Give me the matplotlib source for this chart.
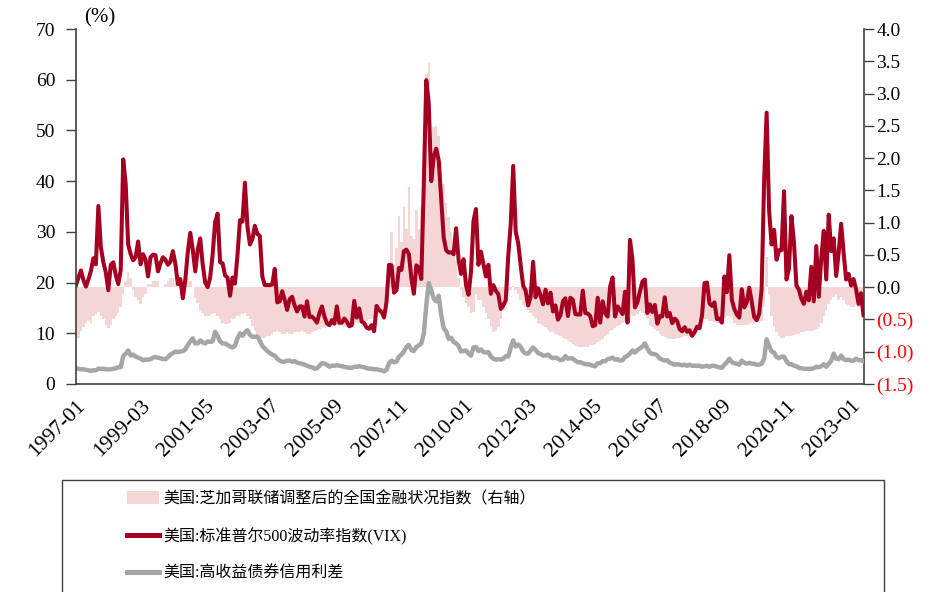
import numpy as np
import pandas as pd
import matplotlib
matplotlib.use('Agg')
import matplotlib.pyplot as plt
from matplotlib.patches import Patch, Rectangle
from matplotlib.lines import Line2D

plt.rcParams['font.family'] = ['Liberation Serif', 'Noto Sans CJK SC']
plt.rcParams['axes.unicode_minus'] = False

# monthly, 1997-01 .. 2023-06
months = pd.period_range('1997-01', '2023-06', freq='M').strftime('%Y-%m').tolist()

# VIX, month-end close
vix = [
    19.5, 21.0, 22.4, 20.5, 19.2, 20.6, 22.3, 24.8, 23.6, 35.1, 27.0, 24.0,
    22.0, 18.5, 23.5, 24.0, 21.5, 19.7, 22.5, 44.3, 39.5, 27.5, 25.6, 24.4,
    25.0, 28.1, 23.6, 25.6, 24.5, 21.2, 25.0, 25.5, 25.4, 22.2, 23.8, 25.0,
    24.5, 23.5, 24.1, 26.2, 23.7, 19.7, 20.7, 16.9, 20.6, 26.0, 29.8, 26.5,
    22.2, 26.5, 28.7, 23.6, 20.0, 19.1, 21.0, 25.5, 31.9, 33.6, 24.0, 23.8,
    21.4, 21.0, 17.4, 21.0, 19.8, 25.4, 32.3, 32.0, 39.7, 31.1, 27.5, 28.6,
    31.2, 29.6, 29.2, 21.2, 19.5, 19.5, 19.5, 19.6, 22.7, 16.1, 16.3, 18.3,
    16.6, 14.6, 16.7, 17.2, 15.5, 14.3, 15.3, 15.3, 13.3, 16.3, 13.2, 13.3,
    12.8, 12.1, 14.0, 15.3, 13.3, 12.0, 11.6, 12.6, 11.9, 15.3, 12.1, 12.1,
    12.9, 12.3, 11.4, 11.6, 16.4, 13.1, 14.9, 12.3, 12.0, 11.1, 10.9, 11.6,
    10.4, 15.4, 14.6, 14.2, 13.1, 16.2, 23.5, 23.4, 18.0, 18.5, 22.9, 22.5,
    26.2, 26.5, 25.6, 20.8, 17.8, 23.4, 22.9, 20.7, 39.4, 59.9, 55.3, 40.0,
    44.8, 46.4, 44.1, 36.5, 28.9, 26.4, 25.9, 26.0, 25.6, 30.7, 24.5, 21.7,
    24.6, 19.5, 17.6, 22.1, 32.1, 34.5, 23.5, 26.1, 23.7, 21.2, 23.5, 17.8,
    19.5, 18.4, 17.7, 14.8, 15.5, 16.5, 25.3, 31.6, 43.0, 30.0, 27.8, 23.4,
    19.4, 18.4, 15.5, 17.2, 24.1, 17.1, 18.9, 17.5, 15.7, 18.6, 15.9, 18.0,
    14.3, 15.5, 12.7, 13.5, 16.3, 16.9, 13.4, 17.0, 16.6, 13.8, 13.7, 13.7,
    18.4, 14.0, 13.9, 13.4, 11.4, 11.6, 17.0, 12.1, 16.3, 14.0, 13.3, 19.2,
    21.0, 13.3, 15.3, 14.6, 13.8, 18.2, 12.1, 28.4, 24.5, 15.1, 16.1, 18.2,
    20.2, 20.6, 14.0, 15.7, 14.2, 15.6, 11.9, 13.4, 13.3, 17.1, 13.3, 14.0,
    12.0, 12.9, 12.4, 10.8, 10.4, 11.2, 10.3, 10.6, 9.5, 10.2, 11.3, 11.0,
    13.5, 19.9, 20.0, 15.9, 15.4, 16.1, 12.8, 12.9, 12.1, 21.2, 18.1, 25.4,
    16.6, 14.8, 13.7, 13.1, 18.7, 15.1, 16.1, 19.0, 16.2, 13.2, 12.6, 13.8,
    18.8, 40.1, 53.5, 34.2, 27.5, 30.4, 24.5, 26.4, 26.4, 38.0, 20.6, 22.8,
    33.1, 28.0, 19.4, 18.6, 16.8, 15.8, 18.2, 16.5, 23.1, 16.3, 27.2, 17.2,
    24.8, 30.2, 20.6, 33.4, 26.2, 28.7, 21.3, 25.9, 31.6, 25.9, 20.6, 21.7,
    19.4, 20.7, 18.7, 15.8, 17.9, 13.6,
]

# high-yield credit spread (%)
hy_spread = [
    3.1, 3.0, 2.9, 2.9, 2.8, 2.7, 2.6, 2.7, 2.7, 3.0, 3.0, 3.0,
    2.9, 2.9, 2.9, 3.0, 3.1, 3.3, 3.3, 5.5, 6.0, 6.6, 5.6, 5.8,
    5.4, 5.2, 5.0, 4.7, 4.8, 4.8, 4.9, 5.2, 5.3, 5.2, 5.1, 4.9,
    4.9, 5.3, 5.8, 6.1, 6.4, 6.3, 6.4, 6.5, 6.8, 7.7, 8.4, 9.0,
    8.0, 8.0, 8.6, 8.2, 8.0, 8.4, 8.3, 8.4, 10.3, 9.5, 8.4, 8.0,
    8.0, 7.7, 7.4, 7.2, 7.6, 9.0, 10.0, 9.5, 10.2, 10.6, 9.7, 9.3,
    9.3, 9.4, 8.5, 7.5, 7.0, 6.5, 6.1, 5.8, 5.6, 5.0, 4.6, 4.4,
    4.4, 4.6, 4.6, 4.4, 4.5, 4.2, 4.1, 4.0, 3.8, 3.6, 3.4, 3.3,
    3.0, 3.1, 3.6, 4.1, 4.0, 3.8, 3.4, 3.6, 3.6, 3.7, 3.6, 3.5,
    3.4, 3.3, 3.2, 3.2, 3.4, 3.4, 3.5, 3.4, 3.3, 3.1, 3.0, 3.0,
    2.9, 2.9, 2.8, 2.7, 2.5, 2.8, 4.1, 4.6, 4.3, 4.4, 5.4, 5.8,
    6.4, 7.3, 7.7, 6.7, 6.5, 7.3, 7.6, 8.0, 9.9, 15.5, 19.9, 18.5,
    16.8, 16.3, 17.4, 13.7, 11.0, 10.4, 8.9, 9.1, 8.3, 8.0, 7.5, 6.4,
    6.5, 6.6, 6.0, 5.6, 7.2, 7.3, 6.5, 6.8, 6.3, 6.2, 6.3, 5.4,
    5.0, 4.8, 4.9, 4.8, 5.0, 5.5, 5.4, 7.2, 8.6, 7.4, 7.8, 7.3,
    6.4, 6.0, 6.0, 6.6, 7.2, 6.7, 6.1, 5.9, 5.6, 5.6, 5.8, 5.3,
    5.1, 5.2, 5.0, 4.7, 4.8, 5.5, 5.0, 5.1, 5.0, 4.6, 4.3, 4.3,
    4.1, 3.9, 3.9, 3.8, 3.6, 3.5, 4.1, 4.1, 4.5, 4.5, 4.9, 5.0,
    5.2, 4.8, 4.9, 4.6, 4.7, 5.3, 5.6, 6.0, 6.6, 6.2, 6.7, 7.0,
    7.4, 8.0, 7.0, 6.2, 5.9, 5.9, 5.6, 5.0, 4.8, 4.6, 4.7, 4.2,
    4.0, 3.8, 3.9, 3.8, 3.7, 3.8, 3.6, 3.8, 3.6, 3.6, 3.6, 3.6,
    3.4, 3.5, 3.6, 3.4, 3.6, 3.6, 3.4, 3.3, 3.2, 3.8, 4.3, 5.0,
    4.3, 4.1, 4.0, 3.8, 4.6, 4.2, 4.0, 4.2, 4.0, 4.0, 3.8, 3.8,
    4.0, 5.0, 8.8, 7.5, 6.4, 6.2, 5.3, 5.1, 5.4, 5.4, 4.5, 3.9,
    3.9, 3.6, 3.5, 3.2, 3.1, 3.0, 3.0, 3.0, 3.0, 3.1, 3.4, 3.3,
    3.5, 3.9, 3.4, 4.0, 4.6, 6.0, 5.0, 4.9, 5.6, 4.9, 4.7, 4.8,
    4.6, 4.6, 5.0, 4.7, 4.7, 4.5,
]

# Chicago Fed adjusted national financial conditions index (right axis)
anfci = [
    -0.78, -0.78, -0.68, -0.62, -0.56, -0.52, -0.55, -0.45, -0.42, -0.38, -0.45, -0.50,
    -0.58, -0.63, -0.58, -0.50, -0.45, -0.40, -0.30, -0.10, 0.10, 0.23, 0.15, -0.05,
    -0.15, -0.20, -0.26, -0.15, -0.10, 0.05, 0.05, 0.10, 0.10, 0.10, 0.00, 0.00,
    0.05, 0.10, 0.15, 0.15, 0.05, 0.00, 0.05, 0.10, 0.10, 0.15, 0.10, 0.00,
    -0.16, -0.25, -0.37, -0.40, -0.44, -0.45, -0.45, -0.42, -0.40, -0.45, -0.50, -0.55,
    -0.57, -0.57, -0.55, -0.50, -0.48, -0.45, -0.44, -0.42, -0.40, -0.45, -0.50, -0.60,
    -0.68, -0.72, -0.78, -0.78, -0.78, -0.76, -0.75, -0.72, -0.70, -0.68, -0.70, -0.72,
    -0.72, -0.70, -0.72, -0.72, -0.70, -0.70, -0.70, -0.68, -0.70, -0.72, -0.72, -0.70,
    -0.68, -0.66, -0.65, -0.62, -0.63, -0.62, -0.60, -0.60, -0.58, -0.58, -0.60, -0.60,
    -0.62, -0.62, -0.64, -0.64, -0.58, -0.56, -0.55, -0.55, -0.52, -0.52, -0.50, -0.50,
    -0.47, -0.45, -0.42, -0.38, -0.30, -0.10, 0.30, 0.85, 0.35, 0.60, 1.10, 0.70,
    1.24, 0.90, 1.55, 0.80, 0.75, 1.19, 0.90, 1.24, 1.60, 3.30, 3.47, 2.30,
    2.48, 2.50, 2.35, 1.95, 1.60, 1.30, 1.08, 0.85, 0.60, 0.40, 0.15, -0.05,
    -0.15, -0.25, -0.30, -0.40, -0.39, -0.10, -0.20, -0.20, -0.30, -0.40, -0.50, -0.60,
    -0.70, -0.68, -0.62, -0.50, -0.35, -0.25, -0.11, -0.05, 0.02, -0.05, -0.11, -0.20,
    -0.28, -0.31, -0.35, -0.40, -0.45, -0.47, -0.55, -0.57, -0.60, -0.62, -0.66, -0.70,
    -0.70, -0.72, -0.74, -0.76, -0.78, -0.80, -0.83, -0.85, -0.88, -0.91, -0.92, -0.93,
    -0.93, -0.92, -0.92, -0.90, -0.90, -0.88, -0.85, -0.83, -0.80, -0.75, -0.72, -0.68,
    -0.66, -0.63, -0.60, -0.58, -0.55, -0.52, -0.50, -0.47, -0.44, -0.45, -0.42, -0.37,
    -0.40, -0.45, -0.50, -0.58, -0.62, -0.65, -0.68, -0.72, -0.75, -0.77, -0.78, -0.80,
    -0.80, -0.80, -0.78, -0.78, -0.77, -0.76, -0.75, -0.75, -0.73, -0.72, -0.70, -0.60,
    -0.47, -0.50, -0.50, -0.52, -0.52, -0.54, -0.55, -0.55, -0.50, -0.48, -0.45, -0.44,
    -0.48, -0.55, -0.58, -0.58, -0.58, -0.58, -0.58, -0.57, -0.56, -0.55, -0.54, -0.53,
    -0.52, -0.30, 0.47, -0.10, -0.45, -0.60, -0.70, -0.75, -0.78, -0.78, -0.76, -0.75,
    -0.75, -0.74, -0.72, -0.72, -0.70, -0.70, -0.68, -0.68, -0.68, -0.66, -0.65, -0.62,
    -0.55, -0.45, -0.35, -0.26, -0.20, -0.15, -0.10, -0.20, -0.15, -0.20, -0.26, -0.28,
    -0.30, -0.30, -0.28, -0.30, -0.30, -0.30,
]

tick_labels = ['1997-01', '1999-03', '2001-05', '2003-07', '2005-09', '2007-11', '2010-01',
               '2012-03', '2014-05', '2016-07', '2018-09', '2020-11', '2023-01']

legend_labels = ['美国:芝加哥联储调整后的全国金融状况指数（右轴）',
                 '美国:标准普尔500波动率指数(VIX)',
                 '美国:高收益债券信用利差']

RED = '#A50021'
GRAY = '#A6A6A6'
PINK = '#F4D6D6'
AXIS = '#404040'

x = np.arange(len(months))

fig = plt.figure(figsize=(9.37, 5.92), dpi=100)
ax = fig.add_axes([76 / 937, 1 - 384 / 592, (864 - 76) / 937, 355 / 592])
ax2 = ax.twinx()

# bars on the right axis, lines on the left axis drawn above them
ax2.bar(x, anfci, width=1.0, color=PINK, linewidth=0)
ax.plot(x, hy_spread, color=GRAY, lw=3.2, solid_joinstyle='round')
ax.plot(x, vix, color=RED, lw=2.9, solid_joinstyle='round')
ax.set_zorder(ax2.get_zorder() + 1)
ax.patch.set_visible(False)

ax.set_xlim(0, len(months) - 0.8)
ax.set_ylim(0, 70)
ax.set_yticks(range(0, 71, 10))
ax2.set_ylim(-1.5, 4.0)
right_ticks = np.arange(-1.5, 4.01, 0.5)
ax2.set_yticks(right_ticks)
ax2.set_yticklabels([f'({abs(v):.1f})' if v < 0 else f'{v:.1f}' for v in right_ticks])
for lab, v in zip(ax2.get_yticklabels(), right_ticks):
    lab.set_color('#FF0000' if v < 0 else 'black')

pos = [months.index(t) for t in tick_labels]
ax.set_xticks(pos)
ax.set_xticklabels(tick_labels, rotation=45, ha='right', rotation_mode='anchor', fontsize=15.5)
ax.tick_params(axis='x', length=0, pad=9)
ax.tick_params(axis='y', direction='out', length=7, width=1, color=AXIS, labelsize=14, pad=8)
ax2.tick_params(axis='y', direction='out', length=7, width=1, color=AXIS, labelsize=14, pad=2)

for a in (ax, ax2):
    a.spines['top'].set_visible(False)
    for s in ('left', 'right', 'bottom'):
        a.spines[s].set_color(AXIS)
        a.spines[s].set_linewidth(1.2)
ax.spines['right'].set_visible(False)
ax2.spines['left'].set_visible(False)
ax2.spines['bottom'].set_visible(False)

fig.text(84 / 937, 1 - 18 / 592, '(%)', fontsize=15, va='center', ha='left')

# legend box runs off the bottom edge
fig.patches.append(Rectangle((62 / 937, -0.05), (884 - 62) / 937, 0.05 + 1 - 480 / 592,
                             transform=fig.transFigure, fill=False, edgecolor=AXIS, lw=1.0))
handles = [Patch(facecolor=PINK, edgecolor='none'),
           Line2D([], [], color=RED, lw=3.6),
           Line2D([], [], color=GRAY, lw=3.6)]
fig.legend(handles, legend_labels, loc='upper left', bbox_to_anchor=(127 / 937, 1 - 491 / 592),
           frameon=False, fontsize=11.5, handlelength=2.0, handleheight=0.8,
           handletextpad=0.3, labelspacing=1.3, borderpad=0, borderaxespad=0)

fig.savefig('out.png', dpi=100)
